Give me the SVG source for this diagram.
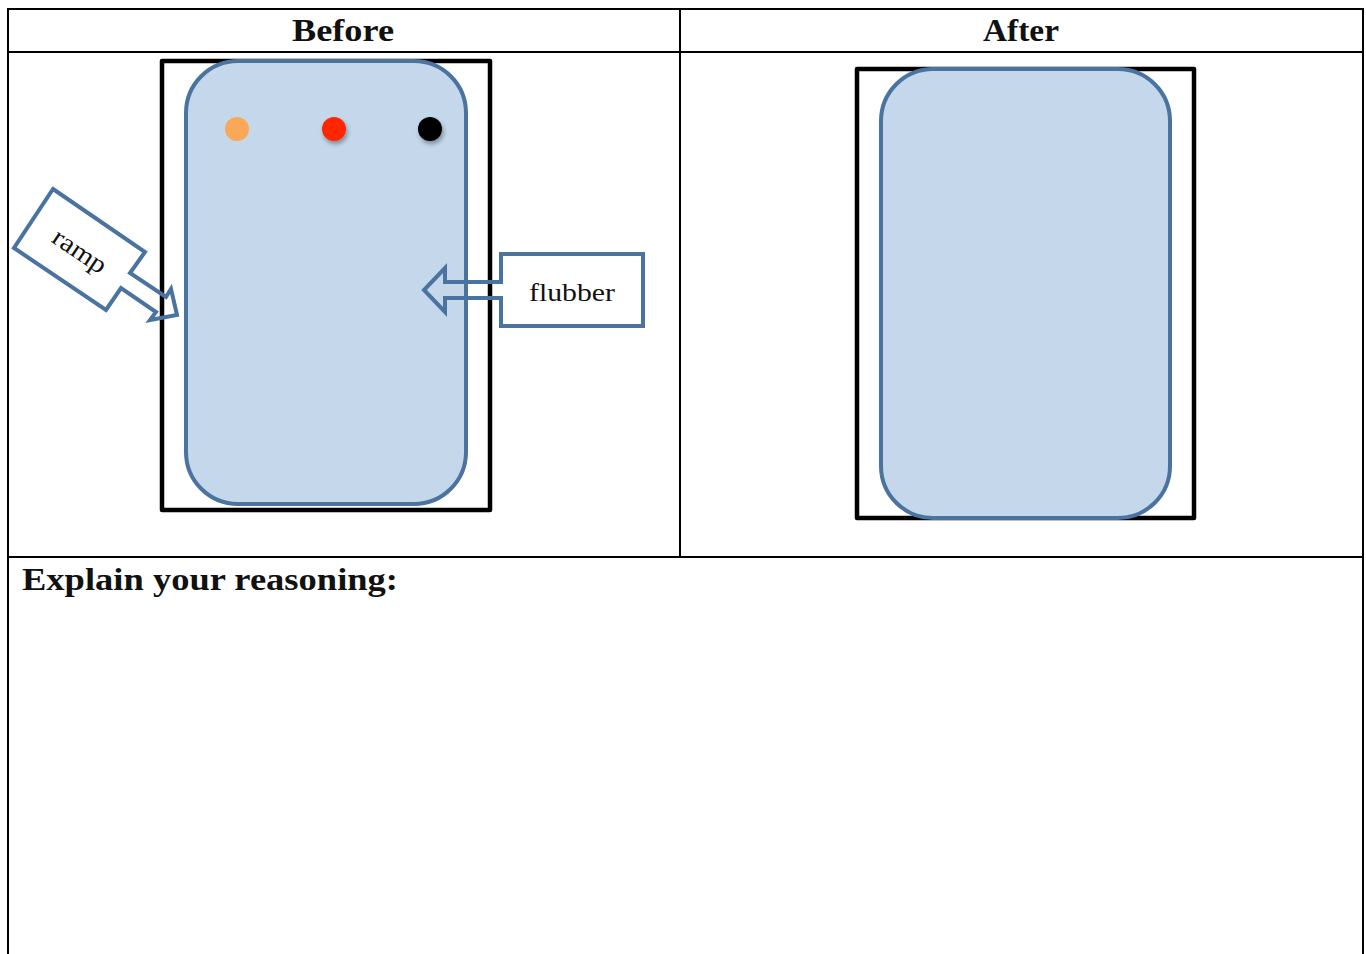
<svg xmlns="http://www.w3.org/2000/svg" width="1366" height="954" viewBox="0 0 1366 954">
  <style>
    .grid { stroke: #000; stroke-width: 2; fill: none; }
    .frame { fill: #fff; stroke: #000; stroke-width: 4.5; stroke-linejoin: round; }
    .blob { fill: #c4d7eb; stroke: #4a73a0; stroke-width: 4; }
    .callout { fill: none; stroke: #4a73a0; stroke-width: 4; stroke-linejoin: miter; }
    .head { font-family: "Liberation Serif", "DejaVu Serif", serif; font-weight: bold; font-size: 32px; fill: #111; }
    .lbl { font-family: "Liberation Serif", "DejaVu Serif", serif; font-size: 26px; fill: #111; }
  </style>
  <defs>
    <filter id="shade" x="-50%" y="-50%" width="200%" height="200%">
      <feDropShadow dx="1.5" dy="3" stdDeviation="2" flood-color="#000" flood-opacity="0.35"/>
    </filter>
  </defs>
  <rect width="1366" height="954" fill="#fff"/>

  <!-- table -->
  <g id="table">
    <path class="grid" d="M8 954 V9 H1363 V954 M680 9 V557 M8 52 H1363 M8 557 H1363"/>
    <text class="head" x="292" y="41" textLength="102" lengthAdjust="spacingAndGlyphs">Before</text>
    <text class="head" x="983" y="41" textLength="76" lengthAdjust="spacingAndGlyphs">After</text>
    <text class="head" x="22" y="590" textLength="376" lengthAdjust="spacingAndGlyphs">Explain your reasoning:</text>
  </g>

  <!-- before -->
  <g id="before-frame">
    <rect class="frame" x="162" y="61" width="328" height="449"/>
  </g>
  <g id="before-blob">
    <rect class="blob" x="186" y="61" width="280" height="443" rx="52" ry="52"/>
  </g>
  <g id="dots">
    <circle cx="237" cy="129" r="12" fill="#f9a857"/>
    <circle cx="334" cy="129" r="12" fill="#ff2600" filter="url(#shade)"/>
    <circle cx="430" cy="129" r="12" fill="#000" filter="url(#shade)"/>
  </g>

  <!-- after -->
  <g id="after-frame">
    <rect class="frame" x="857" y="69" width="337" height="449"/>
  </g>
  <g id="after-blob">
    <rect class="blob" x="881" y="69" width="289" height="449" rx="52" ry="52"/>
  </g>

  <!-- callouts with arrows (outline only, so the frames show through) -->
  <g id="connectors">
    <g id="ramp">
      <polygon class="callout" points="53,189 145,252 130,273 166,297 171,289 177,315 150,320 156,312 121,288 106,310 14,248"/>
      <text class="lbl" x="0" y="0" text-anchor="middle" textLength="60" lengthAdjust="spacingAndGlyphs" transform="translate(75,258) rotate(34)">ramp</text>
    </g>
    <g id="flubber">
      <polygon class="callout" points="501,254 643,254 643,326 501,326 501,298 445,298 445,312 424,290 445,268 445,282 501,282"/>
      <text class="lbl" x="529" y="301" textLength="86" lengthAdjust="spacingAndGlyphs">flubber</text>
    </g>
  </g>
</svg>
